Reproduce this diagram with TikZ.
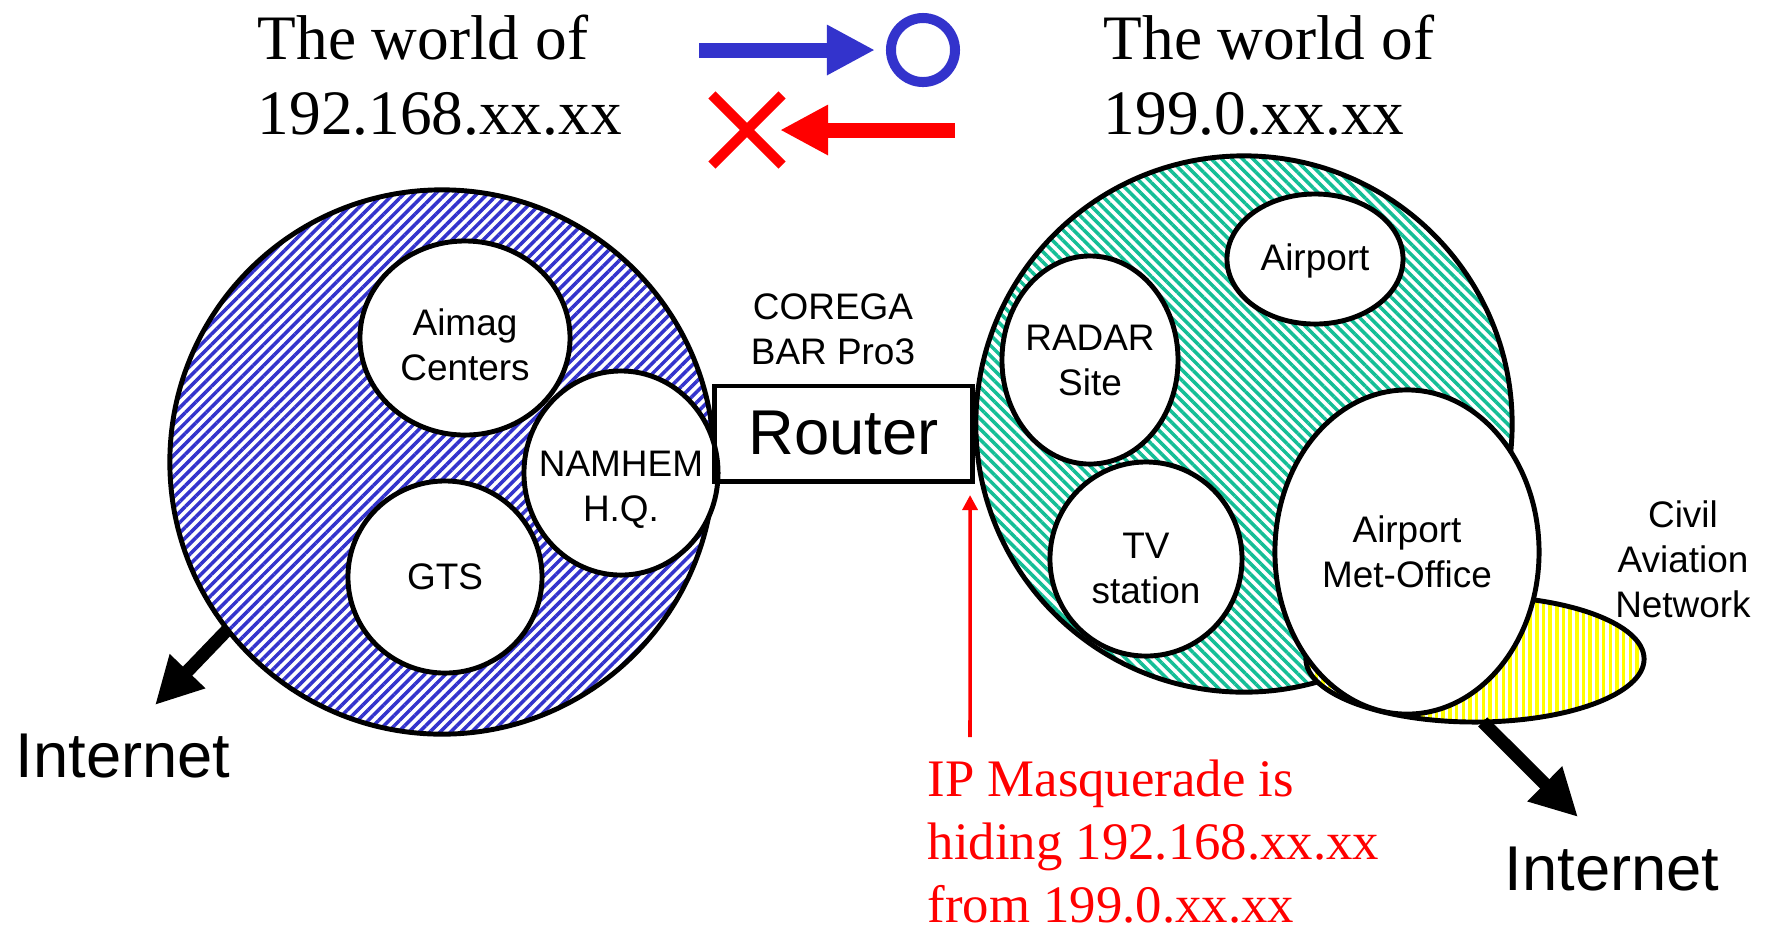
\documentclass[tikz,border=0pt]{standalone}
\usepackage{fontspec}
\setmainfont{Liberation Serif}
\setsansfont{Liberation Sans}
\usetikzlibrary{arrows.meta,positioning,shapes.geometric,shapes.misc,patterns.meta}

\definecolor{hatchblue}{RGB}{51,51,204}
\definecolor{hatchgreen}{RGB}{20,190,150}
\definecolor{hatchyellow}{RGB}{255,255,0}

\begin{document}
\begin{tikzpicture}[
    x=0.01cm, y=-0.01cm,
    world/.style={circle, draw, line width=1.4pt, minimum size=5.44cm, inner sep=0pt, outer sep=0pt},
    site/.style={ellipse, draw, line width=1.4pt, fill=white, inner sep=0pt, outer sep=0pt},
    sitetext/.style={inner sep=0pt, align=center, font=\sffamily\fontsize{10.5}{12.8}\selectfont},
    worldtitle/.style={anchor=north west, inner sep=0pt, align=left, font=\fontsize{18}{21.4}\selectfont},
    inet/.style={anchor=base, inner sep=0pt, font=\sffamily\fontsize{18}{21.6}\selectfont},
    bigarrow/.style={line width=0.13cm, -{Triangle[length=0.47cm, width=0.46cm]}},
    legendarrow/.style={line width=0.15cm, -{Triangle[length=0.48cm, width=0.47cm]}},
    masqarrow/.style={red, line width=1pt, -{Triangle[length=0.15cm, width=0.15cm]}}
]

\fill[white] (0,0) rectangle (1765,932);
\useasboundingbox (0,0) rectangle (1765,932);

% Legend
\node[circle, draw=hatchblue, line width=0.1cm, minimum size=0.64cm, inner sep=0pt] (okmark) at (923,50) {};
\node[cross out, draw=red, line width=0.1cm, minimum size=0.6cm, inner sep=0pt] (ngmark) at (747,130) {};
\coordinate (okstart) at (699,50);
\coordinate (ngstart) at (955,130);
\draw[legendarrow, hatchblue] (okstart) -- ([xshift=-0.11cm]okmark.west);
\draw[legendarrow, red] (ngstart) -- ([xshift=-0.02cm]ngmark.east);

% Titles
\node[worldtitle] (title192) at (257,14) {The world of\\192.168.xx.xx};
\node[worldtitle] (title199) at (1103,14) {The world of\\199.0.xx.xx};

% Internet links
\node[inet] (inet192) at (123,777) {Internet};
\node[inet] (inet199) at (1612,890) {Internet};
\coordinate (tip192) at (155,705);
\coordinate (tip199) at (1578,817);

% 192.168 world
\node[world, pattern={Lines[angle=45, distance=2.1pt, line width=1pt]}, pattern color=hatchblue] (lan192) at (442,462) {};
\draw[bigarrow] (lan192.218.5) -- (tip192);
\node[site, minimum width=2.10cm, minimum height=1.94cm] (aimag) at (465,338) {};
\node[site, minimum width=1.94cm, minimum height=2.04cm] (namhem) at (621,473) {};
\node[site, minimum width=1.94cm, minimum height=1.92cm] (gts) at (445,577) {};
\node[sitetext] (aimagtext) at ([yshift=-0.07cm]aimag.center) {Aimag\\Centers};
\node[sitetext] (namhemtext) at ([yshift=-0.17cm]namhem.center) {NAMHEM\\H.Q.};
\node[sitetext] (gtstext) at (gts) {GTS};

% Router
\node[draw, line width=1.4pt, minimum width=2.57cm, minimum height=0.95cm, inner sep=0pt, outer sep=0pt,
      font=\sffamily\fontsize{18}{21.6}\selectfont] (router) at (843.5,433.5) {Router};
\node[sitetext] (corega) at (833,329) {COREGA\\BAR Pro3};

% 199.0 world
\node[world, minimum size=5.36cm, pattern={Lines[angle=-45, distance=2.1pt, line width=1pt]}, pattern color=hatchgreen] (lan199) at (1244,424) {};
\node[site, minimum width=3.38cm, minimum height=1.26cm, preaction={fill=white},
      pattern={Lines[angle=90, distance=1.9pt, line width=1pt]}, pattern color=hatchyellow] (civilnet) at (1475,659) {};
\draw[bigarrow] (civilnet.-83) -- (tip199);
\node[site, minimum width=1.76cm, minimum height=1.30cm] (airport) at (1315,259) {};
\node[site, minimum width=1.76cm, minimum height=2.08cm] (radar) at (1090,360) {};
\node[site, minimum width=1.92cm, minimum height=1.94cm] (tvst) at (1146,559) {};
\node[site, minimum width=2.64cm, minimum height=3.24cm] (metoffice) at (1407,552) {};
\node[sitetext] (airporttext) at ([yshift=-0.02cm]airport.center) {Airport};
\node[sitetext] (radartext) at (radar) {RADAR\\Site};
\node[sitetext] (tvsttext) at ([yshift=-0.09cm]tvst.center) {TV\\station};
\node[sitetext] (metofficetext) at (metoffice) {Airport\\Met-Office};
\node[sitetext] (civiltext) at (1683,559) {Civil\\Aviation\\Network};

% IP masquerade
\node[anchor=north west, inner sep=0pt, align=left, text=red, font=\fontsize{15}{17.9}\selectfont] (masq) at (927,759)
    {IP Masquerade is\\hiding 192.168.xx.xx\\from 199.0.xx.xx};
\coordinate (masqtop) at (970,737);
\draw[masqarrow] (masqtop) -- ([xshift=-0.02cm, yshift=-0.14cm]router.south east);

\end{tikzpicture}
\end{document}
